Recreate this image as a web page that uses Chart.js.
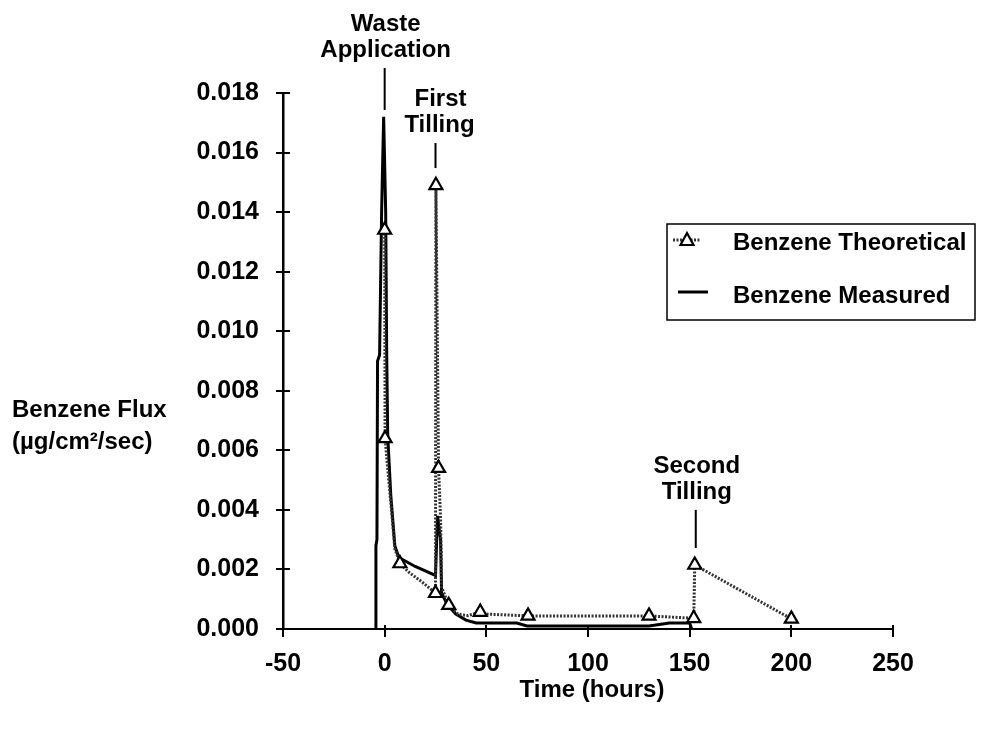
<!DOCTYPE html>
<html>
<head>
<meta charset="utf-8">
<script src="https://cdn.jsdelivr.net/npm/chart.js@4.4.1/dist/chart.umd.min.js"></script>
<style>
  html, body { margin: 0; padding: 0; background: #fff; }
  #wrap { width: 988px; height: 733px; }
</style>
</head>
<body>
<div id="wrap"><canvas id="c" width="988" height="733"></canvas></div>
<script>
// ---- Data ----
const seriesNames = ["Benzene Theoretical", "Benzene Measured"];

// Measured benzene flux (µg/cm²/sec) vs time (hours)
const measuredTime = [-4.5, -4.3, -3.8, -3.5, -2.5, -1.5, -0.5, 0.5, 1, 1.5, 3, 5, 7, 15, 25, 26, 27.5, 28, 31, 35, 40, 45, 50, 65, 70, 100, 130, 140, 150, 151];
const measuredFlux = [0, 0.0028, 0.0030, 0.0090, 0.0092, 0.0140, 0.0172, 0.0140, 0.0092, 0.0065, 0.0045, 0.0028, 0.0024, 0.0021, 0.0018, 0.0038, 0.0030, 0.0012, 0.0008, 0.0005, 0.0003, 0.0002, 0.0002, 0.0002, 0.0001, 0.0001, 0.0001, 0.0002, 0.0002, 0];

// Theoretical benzene flux; theoSampled marks model output points (shown with triangles)
const theoTime    = [0, 0.2, 2, 4, 5, 7.5, 12, 18, 25, 25.2, 26.5, 27.5, 28, 31.5, 36, 41, 47, 50, 70.5, 130, 152, 152.5, 200];
const theoFlux    = [0.0134, 0.0064, 0.0050, 0.0035, 0.0027, 0.0022, 0.0019, 0.0016, 0.0012, 0.0149, 0.0054, 0.0037, 0.0014, 0.0008, 0.0005, 0.00045, 0.00057, 0.0005, 0.00044, 0.00044, 0.00036, 0.00215, 0.00034];
const theoSampled = [1, 1, 0, 0, 0, 1, 0, 0, 1, 1, 1, 0, 0, 1, 0, 0, 1, 0, 1, 1, 1, 1, 1];

// Axis ticks
const xTicks = [-50, 0, 50, 100, 150, 200, 250];
const yTicks = [0, 0.002, 0.004, 0.006, 0.008, 0.010, 0.012, 0.014, 0.016, 0.018];

// Event annotations: label lines, time, top and bottom of marker line (flux units)
const eventLabels = [["Waste", "Application"], ["First", "Tilling"], ["Second", "Tilling"]];
const eventTime   = [0, 25, 153];
const eventTop    = [0.01884, 0.01632, 0.0040];
const eventBottom = [0.01743, 0.01548, 0.00272];

const axisTitleX = "Time (hours)";
const axisTitleY = ["Benzene Flux", "(µg/cm²/sec)"];

// ---- Chart ----
const FONT = "'Liberation Sans', Arial, sans-serif";
const FS = 25;
const TXT = 'bold 24px ' + FONT;

const measuredData = measuredTime.map((t, i) => ({ x: t, y: measuredFlux[i] }));
const theoData = theoTime.map((t, i) => ({ x: t, y: theoFlux[i] }));

const overlay = {
  id: 'overlay',
  afterDraw(chart) {
    const ctx = chart.ctx;
    const xs = chart.scales.x, ys = chart.scales.y;
    const area = chart.chartArea;
    ctx.save();
    ctx.fillStyle = '#000';
    ctx.strokeStyle = '#000';
    // inner tick marks
    ctx.lineWidth = 2;
    yTicks.forEach(v => {
      const py = Math.round(ys.getPixelForValue(v));
      ctx.beginPath(); ctx.moveTo(area.left, py); ctx.lineTo(area.left + 7, py); ctx.stroke();
    });
    xTicks.forEach(v => {
      const px = Math.round(xs.getPixelForValue(v));
      ctx.beginPath(); ctx.moveTo(px, area.bottom); ctx.lineTo(px, area.bottom - 4); ctx.stroke();
    });
    // event annotations
    ctx.font = TXT;
    ctx.textAlign = 'center';
    ctx.textBaseline = 'middle';
    eventLabels.forEach((lines, i) => {
      const px = xs.getPixelForValue(eventTime[i]);
      const top = ys.getPixelForValue(eventTop[i]);
      const bot = ys.getPixelForValue(eventBottom[i]);
      ctx.lineWidth = 2;
      ctx.beginPath(); ctx.moveTo(px, top); ctx.lineTo(px, bot); ctx.stroke();
      ctx.fillText(lines[1], px + (i === 1 ? 4 : 1), top - 18);
      ctx.fillText(lines[0], px + (i === 1 ? 5 : 1), top - 44);
    });
    // axis titles
    ctx.textAlign = 'center';
    ctx.fillText(axisTitleX, (area.left + area.right) / 2 + 4, 690);
    ctx.textAlign = 'left';
    ctx.fillText(axisTitleY[0], 12, 410);
    ctx.fillText(axisTitleY[1], 12, 442);
    // legend
    const lx = 667, ly = 224, lw = 308, lh = 96;
    ctx.lineWidth = 1.5;
    ctx.strokeRect(lx, ly, lw, lh);
    const dsT = chart.data.datasets[0], dsM = chart.data.datasets[1];
    // theoretical sample
    ctx.strokeStyle = dsT.borderColor;
    ctx.lineWidth = 3;
    ctx.setLineDash([2, 1.5]);
    ctx.beginPath(); ctx.moveTo(673, 240); ctx.lineTo(701, 240); ctx.stroke();
    ctx.setLineDash([]);
    ctx.fillStyle = '#fff';
    ctx.strokeStyle = '#000';
    ctx.lineWidth = 2.2;
    ctx.beginPath();
    ctx.moveTo(687, 233); ctx.lineTo(693.5, 245); ctx.lineTo(680.5, 245); ctx.closePath();
    ctx.fill(); ctx.stroke();
    // measured sample
    ctx.strokeStyle = dsM.borderColor;
    ctx.lineWidth = 3;
    ctx.beginPath(); ctx.moveTo(678, 292); ctx.lineTo(708, 292); ctx.stroke();
    ctx.fillStyle = '#000';
    ctx.textAlign = 'left';
    ctx.fillText(dsT.label, 733, 243);
    ctx.fillText(dsM.label, 733, 296);
    ctx.restore();
  }
};

new Chart(document.getElementById('c'), {
  type: 'line',
  data: {
    datasets: [
      {
        label: seriesNames[0],
        data: theoData,
        borderColor: '#333',
        borderWidth: 3,
        borderDash: [2, 1.5],
        pointStyle: 'triangle',
        pointRadius: ctx => theoSampled[ctx.dataIndex] ? 7.5 : 0,
        pointBackgroundColor: '#fff',
        pointBorderColor: '#000',
        pointBorderWidth: 2.2,
        tension: 0,
        order: 1
      },
      {
        label: seriesNames[1],
        data: measuredData,
        borderColor: '#000',
        borderWidth: 3,
        pointRadius: 0,
        tension: 0,
        order: 2
      }
    ]
  },
  options: {
    responsive: false,
    animation: false,
    layout: { padding: { top: 93, right: 95, left: 0, bottom: 0 } },
    plugins: { legend: { display: false }, tooltip: { enabled: false } },
    scales: {
      x: {
        type: 'linear',
        min: -50, max: 250,
        afterBuildTicks: s => { s.ticks = xTicks.map(v => ({ value: v })); },
        afterFit: s => { s.height = 104; },
        grid: { display: true, drawOnChartArea: false, drawTicks: true, tickLength: 8, color: '#000', lineWidth: 2 },
        border: { display: true, color: '#000', width: 2 },
        ticks: { color: '#000', font: { family: FONT, size: FS, weight: 'bold' }, padding: 12, maxRotation: 0, autoSkip: false }
      },
      y: {
        type: 'linear',
        min: 0, max: 0.018,
        afterBuildTicks: s => { s.ticks = yTicks.map(v => ({ value: v })); },
        afterFit: s => { s.width = 283; },
        grid: { display: true, drawOnChartArea: false, drawTicks: true, tickLength: 7, color: '#000', lineWidth: 2 },
        border: { display: true, color: '#000', width: 2.5 },
        ticks: { color: '#000', font: { family: FONT, size: FS, weight: 'bold' }, padding: 17, autoSkip: false, callback: v => Number(v).toFixed(3) }
      }
    }
  },
  plugins: [overlay]
});
</script>
</body>
</html>
